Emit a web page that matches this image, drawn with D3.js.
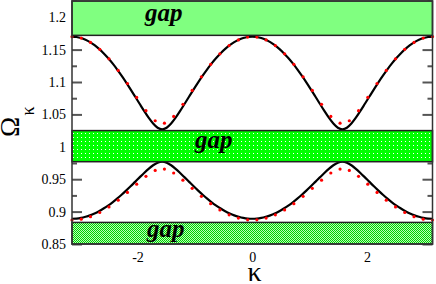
<!DOCTYPE html>
<html><head><meta charset="utf-8">
<script src="https://cdn.jsdelivr.net/npm/d3@7"></script>
<style>html,body{margin:0;padding:0;background:#fff;overflow:hidden}</style>
</head><body><svg id="c" width="436" height="284"></svg>
<script>
// ---------- data ----------
const kappaLine = [-3.1416,-3.0631,-2.9845,-2.9060,-2.8274,-2.7489,-2.6704,-2.5918,-2.5133,-2.4347,-2.3562,-2.2777,-2.1991,-2.1206,-2.0420,-1.9635,-1.8850,-1.8064,-1.7279,-1.6493,-1.5708,-1.4923,-1.4137,-1.3352,-1.2566,-1.1781,-1.0996,-1.0210,-0.9425,-0.8639,-0.7854,-0.7069,-0.6283,-0.5498,-0.4712,-0.3927,-0.3142,-0.2356,-0.1571,-0.0785,0,0.0785,0.1571,0.2356,0.3142,0.3927,0.4712,0.5498,0.6283,0.7069,0.7854,0.8639,0.9425,1.0210,1.0996,1.1781,1.2566,1.3352,1.4137,1.4923,1.5708,1.6493,1.7279,1.8064,1.8850,1.9635,2.0420,2.1206,2.1991,2.2777,2.3562,2.4347,2.5133,2.5918,2.6704,2.7489,2.8274,2.9060,2.9845,3.0631,3.1416];
const upperExact = [1.1700,1.1695,1.1679,1.1652,1.1615,1.1568,1.1511,1.1445,1.1370,1.1287,1.1196,1.1098,1.0995,1.0887,1.0776,1.0664,1.0553,1.0449,1.0359,1.0294,1.0270,
1.0294,1.0359,1.0449,1.0553,1.0664,1.0776,1.0887,1.0995,1.1098,1.1196,1.1287,1.1370,1.1445,1.1511,1.1568,1.1615,1.1652,1.1679,1.1695,1.1700,
1.1695,1.1679,1.1652,1.1615,1.1568,1.1511,1.1445,1.1370,1.1287,1.1196,1.1098,1.0995,1.0887,1.0776,1.0664,1.0553,1.0449,1.0359,1.0294,1.0270,
1.0294,1.0359,1.0449,1.0553,1.0664,1.0776,1.0887,1.0995,1.1098,1.1196,1.1287,1.1370,1.1445,1.1511,1.1568,1.1615,1.1652,1.1679,1.1695,1.1700];
const lowerExact = [0.8890,0.8893,0.8903,0.8920,0.8942,0.8971,0.9006,0.9047,0.9093,0.9144,0.9200,0.9260,0.9324,0.9390,0.9459,0.9528,0.9596,0.9660,0.9715,0.9755,0.9770,
0.9755,0.9715,0.9660,0.9596,0.9528,0.9459,0.9390,0.9324,0.9260,0.9200,0.9144,0.9093,0.9047,0.9006,0.8971,0.8942,0.8920,0.8903,0.8893,0.8890,
0.8893,0.8903,0.8920,0.8942,0.8971,0.9006,0.9047,0.9093,0.9144,0.9200,0.9260,0.9324,0.9390,0.9459,0.9528,0.9596,0.9660,0.9715,0.9755,0.9770,
0.9755,0.9715,0.9660,0.9596,0.9528,0.9459,0.9390,0.9324,0.9260,0.9200,0.9144,0.9093,0.9047,0.9006,0.8971,0.8942,0.8920,0.8903,0.8893,0.8890];
const kappaDots = [-3.1416,-2.9805,-2.8194,-2.6583,-2.4972,-2.3361,-2.1750,-2.0138,-1.8527,-1.6916,-1.5305,-1.3694,-1.2083,-1.0472,-0.8861,-0.7250,-0.5639,-0.4028,-0.2417,-0.0806,0.0806,0.2417,0.4028,0.5639,0.7250,0.8861,1.0472,1.2083,1.3694,1.5305,1.6916,1.8527,2.0138,2.1750,2.3361,2.4972,2.6583,2.8194,2.9805,3.1416];
const upperApprox = [1.1700,1.1678,1.1611,1.1504,1.1358,1.1179,1.0977,1.0762,1.0557,1.0402,1.0365,1.0469,1.0656,1.0870,1.1080,1.1272,1.1435,1.1562,1.1650,1.1694,1.1694,1.1650,1.1562,1.1435,1.1272,1.1080,1.0870,1.0656,1.0469,1.0365,1.0402,1.0557,1.0762,1.0977,1.1179,1.1358,1.1504,1.1611,1.1678,1.1700];
const lowerApprox = [0.8870,0.8883,0.8922,0.8986,0.9072,0.9177,0.9296,0.9423,0.9544,0.9635,0.9657,0.9596,0.9485,0.9359,0.9235,0.9122,0.9026,0.8951,0.8900,0.8873,0.8873,0.8900,0.8951,0.9026,0.9122,0.9235,0.9359,0.9485,0.9596,0.9657,0.9635,0.9544,0.9423,0.9296,0.9177,0.9072,0.8986,0.8922,0.8883,0.8870];
const gapLow  = [1.172, 0.977, 0.850];
const gapHigh = [1.225, 1.025, 0.8833];
const gapText = ["gap", "gap", "gap"];
const yTicks = [0.85,0.9,0.95,1,1.05,1.1,1.15,1.2];
const yTickLabels = ["0.85","0.9","0.95","1","1.05","1.1","1.15","1.2"];
const yMinorTicks = [0.875,0.925,0.975,1.025,1.075,1.125,1.175,1.225];
const xTicks = [-2,0,2];
const xTickLabels = ["-2","0","2"];
const xMinorTicks = [-3,-1,1,3];

// ---------- layout ----------
const L = 72, R = 432.5, T = 1, B = 244;
const x = d3.scaleLinear().domain([-Math.PI, Math.PI]).range([L, R]);
const y = d3.scaleLinear().domain([0.85, 1.225]).range([B, T]);
const svg = d3.select("#c");
const serif = "Liberation Serif, DejaVu Serif, serif";

const defs = svg.append("defs");
const p1 = defs.append("pattern").attr("id","pDots").attr("patternUnits","userSpaceOnUse").attr("width",4).attr("height",4);
p1.append("rect").attr("width",4).attr("height",4).attr("fill","#00ff00");
p1.append("rect").attr("x",1).attr("y",1).attr("width",1).attr("height",1).attr("fill","#ffffff");
const p2 = defs.append("pattern").attr("id","pCheck").attr("patternUnits","userSpaceOnUse").attr("width",2).attr("height",2);
p2.append("rect").attr("width",2).attr("height",2).attr("fill","#00d000");
p2.append("rect").attr("x",1).attr("y",0).attr("width",1).attr("height",1).attr("fill","#b8ffb8");
p2.append("rect").attr("x",0).attr("y",1).attr("width",1).attr("height",1).attr("fill","#b8ffb8");
const gapFill = ["#80ff80", "url(#pDots)", "url(#pCheck)"];

function styleAxis(g){ g.select(".domain").remove(); g.selectAll("line").attr("stroke","#555").attr("stroke-width",2); }
function styleText(g){ g.attr("font-family",serif).attr("font-size",14); g.selectAll("text").attr("fill","#000"); }
svg.append("g").attr("transform",`translate(${L},0)`)
  .call(d3.axisLeft(y).tickValues(yTicks).tickSize(-10).tickPadding(6).tickFormat((d,i)=>yTickLabels[i]))
  .call(styleAxis).call(styleText);
svg.append("g").attr("transform",`translate(${L},0)`)
  .call(d3.axisLeft(y).tickValues(yMinorTicks).tickSize(-5).tickFormat(""))
  .call(styleAxis);
svg.append("g").attr("transform",`translate(${R},0)`)
  .call(d3.axisRight(y).tickValues(yTicks).tickSize(-10).tickFormat(""))
  .call(styleAxis);
svg.append("g").attr("transform",`translate(${R},0)`)
  .call(d3.axisRight(y).tickValues(yMinorTicks).tickSize(-5).tickFormat(""))
  .call(styleAxis);
svg.append("g").attr("transform",`translate(0,${B})`)
  .call(d3.axisBottom(x).tickValues(xTicks).tickSize(-10).tickPadding(8).tickFormat((d,i)=>xTickLabels[i]))
  .call(styleAxis).call(styleText);
svg.append("g").attr("transform",`translate(0,${B})`)
  .call(d3.axisBottom(x).tickValues(xMinorTicks).tickSize(-5).tickFormat(""))
  .call(styleAxis);

// curves
defs.append("clipPath").attr("id","plot").append("rect").attr("x",L).attr("y",T).attr("width",R-L).attr("height",B-T);
const plot = svg.append("g").attr("clip-path","url(#plot)");
const line = d3.line().x(d=>x(d[0])).y(d=>y(d[1])).curve(d3.curveMonotoneX);
[upperExact, lowerExact].forEach(s=>{
  plot.append("path").datum(kappaLine.map((k,i)=>[k,s[i]]))
    .attr("d",line).attr("fill","none").attr("stroke","#000").attr("stroke-width",2.2);
});
[upperApprox, lowerApprox].forEach(s=>{
  svg.append("g").selectAll("circle").data(kappaDots.map((k,i)=>[k,s[i]])).join("circle")
    .attr("cx",d=>x(d[0])).attr("cy",d=>y(d[1])).attr("r",1.6).attr("fill","#ff0000");
});

// gaps
gapLow.forEach((lo,i)=>{
  svg.append("rect").attr("x",L).attr("width",R-L)
    .attr("y",y(gapHigh[i])).attr("height",y(lo)-y(gapHigh[i]))
    .attr("fill",gapFill[i]).attr("stroke","#222").attr("stroke-width",1.5);
});
const gapTextX = [145, 195, 147];
const gapTextY = [21, 148, 237];
const tg = svg.append("g").attr("font-family",serif).attr("font-weight","bold").attr("font-style","italic").attr("font-size",25);
gapText.forEach((t,i)=>{
  tg.append("text").attr("x",gapTextX[i]).attr("y",gapTextY[i]).text(t).attr("fill","#000");
});

// frame
svg.append("rect").attr("x",L).attr("y",T).attr("width",R-L).attr("height",B-T)
  .attr("fill","none").attr("stroke","#333").attr("stroke-width",1.5);

// axis titles
const tt = svg.append("g").attr("font-family",serif);
tt.append("text").attr("transform","translate(19,127) rotate(-90)").attr("text-anchor","middle")
  .attr("font-size",27).text("Ω");
tt.append("text").attr("transform","translate(34,111) rotate(-90)").attr("text-anchor","middle")
  .attr("font-size",18).text("κ");
tt.append("text").attr("x",254.5).attr("y",281).attr("text-anchor","middle")
  .attr("font-size",28).text("κ");
</script></body></html>
